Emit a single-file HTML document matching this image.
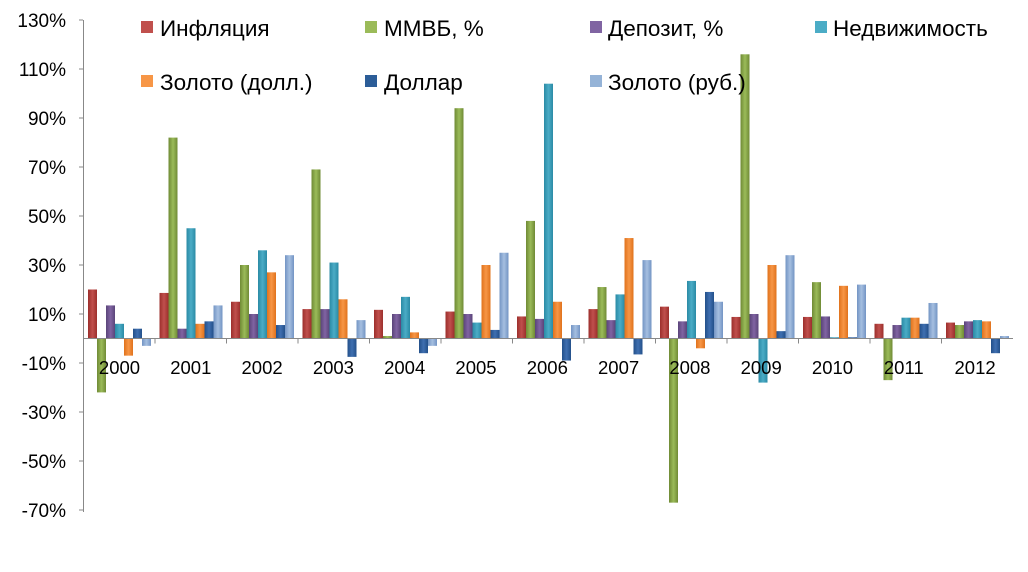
<!DOCTYPE html>
<html><head><meta charset="utf-8"><style>
body{margin:0;background:#fff}
svg text{font-family:"Liberation Sans",sans-serif;fill:#000}
</style></head><body>
<svg width="1028" height="567" xmlns="http://www.w3.org/2000/svg">
<defs>
<linearGradient id="g0"><stop offset="0" stop-color="#9c2f2c"/><stop offset=".5" stop-color="#c0504d"/><stop offset="1" stop-color="#9c2f2c"/></linearGradient>
<linearGradient id="g1"><stop offset="0" stop-color="#6f8a35"/><stop offset=".5" stop-color="#9bbb59"/><stop offset="1" stop-color="#6f8a35"/></linearGradient>
<linearGradient id="g2"><stop offset="0" stop-color="#5a4479"/><stop offset=".5" stop-color="#8064a2"/><stop offset="1" stop-color="#5a4479"/></linearGradient>
<linearGradient id="g3"><stop offset="0" stop-color="#2a8aa5"/><stop offset=".5" stop-color="#4bacc6"/><stop offset="1" stop-color="#2a8aa5"/></linearGradient>
<linearGradient id="g4"><stop offset="0" stop-color="#e0721c"/><stop offset=".5" stop-color="#f79646"/><stop offset="1" stop-color="#e0721c"/></linearGradient>
<linearGradient id="g5"><stop offset="0" stop-color="#23508a"/><stop offset=".5" stop-color="#3f6fb0"/><stop offset="1" stop-color="#23508a"/></linearGradient>
<linearGradient id="g6"><stop offset="0" stop-color="#7394c4"/><stop offset=".5" stop-color="#a5bfe0"/><stop offset="1" stop-color="#7394c4"/></linearGradient>
</defs>
<g id="ax" font-size="19" text-anchor="end"></g>
<g id="bars"></g>
<line x1="83.5" y1="20" x2="83.5" y2="512" stroke="#888"/>
<line x1="83" y1="338.5" x2="1013" y2="338.5" stroke="#888"/>
<g id="yr" font-size="18.5" text-anchor="middle"></g>
<g font-size="22.5">
<rect x="141" y="21" width="12" height="12" fill="#c0504d"/><text x="160" y="36">Инфляция</text>
<rect x="365" y="21" width="12" height="12" fill="#9bbb59"/><text x="384" y="36">ММВБ, %</text>
<rect x="590" y="21" width="12" height="12" fill="#8064a2"/><text x="608" y="36">Депозит, %</text>
<rect x="815" y="21" width="12" height="12" fill="#4bacc6"/><text x="833" y="36">Недвижимость</text>
<rect x="141" y="75" width="12" height="12" fill="#f79646"/><text x="160" y="90">Золото (долл.)</text>
<rect x="365" y="75" width="12" height="12" fill="#2c5d98"/><text x="384" y="90">Доллар</text>
<rect x="590" y="75" width="12" height="12" fill="#95b3d7"/><text x="608" y="90">Золото (руб.)</text>
</g>
</svg>
<script>
const d=[[20,-22,13.5,6,-7,4,-3],[18.6,82,4,45,6,7,13.5],[15,30,10,36,27,5.5,34],[12,69,12,31,16,-7.5,7.5],[11.7,1,10,17,2.5,-6,-3],[11,94,10,6.5,30,3.5,35],[9,48,8,104,15,-9,5.5],[12,21,7.5,18,41,-6.5,32],[13,-67,7,23.5,-4,19,15],[8.8,116,10,-18,30,3,34],[8.8,23,9,0.5,21.5,0.5,22],[6,-17,5.5,8.5,8.5,6,14.5],[6.5,5.5,7,7.5,7,-6,1]];
const ns="http://www.w3.org/2000/svg",z=338.5,k=2.45,gw=71.5;
let b=document.getElementById('bars'),y=document.getElementById('yr'),a=document.getElementById('ax');
function el(p,t,at,tx){let e=document.createElementNS(ns,t);for(let q in at)e.setAttribute(q,at[q]);if(tx)e.textContent=tx;p.appendChild(e);}
for(let v=130;v>=-70;v-=20){let yy=z-v*k;el(a,'text',{x:66,y:yy+7},v+'%');el(a,'line',{x1:79,x2:83,y1:yy,y2:yy,stroke:'#888'});}
d.forEach((r,i)=>{let x0=83.5+i*gw+4.5;r.forEach((v,j)=>{let h=Math.abs(v)*k;el(b,'rect',{x:x0+j*9,y:v>=0?z-h:z,width:9,height:h,fill:'url(#g'+j+')'});});
el(y,'text',{x:119.5+i*71.3,y:374},2000+i);el(a,'line',{x1:83.5+i*gw,x2:83.5+i*gw,y1:z,y2:z+5,stroke:'#888'});});
</script>
</body></html>
